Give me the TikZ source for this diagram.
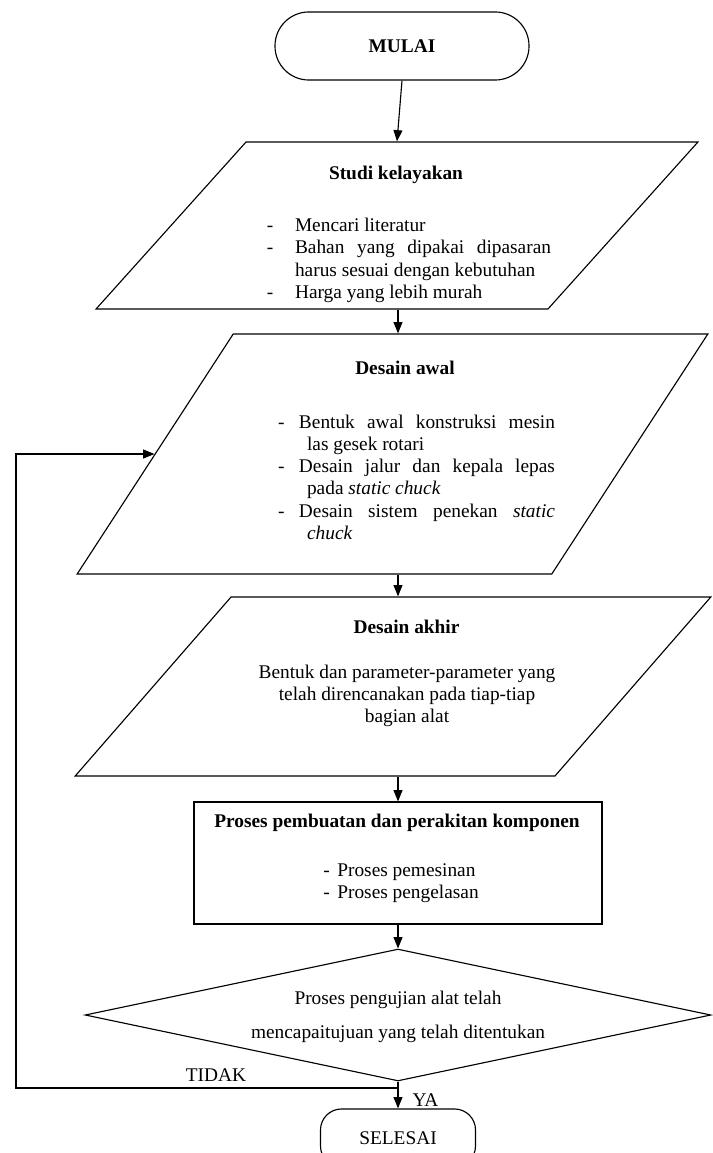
\documentclass[tikz,border=0pt,12pt]{standalone}
\usepackage{fontspec}
\setmainfont{Liberation Serif}
\usetikzlibrary{shapes.geometric,arrows.meta,positioning}
\tolerance=10000 \hbadness=10000
\newcommand{\butir}[3]{\par\noindent\hangindent=#2\hangafter=1\makebox[#1][l]{-}#3\par}

\tikzset{
  flow/.style={draw, line width=0.7pt, inner sep=0pt},
  terminal/.style={flow, rounded corners=#1},
  io/.style 2 args={draw, line width=0.7pt, inner sep=2pt, trapezium, trapezium stretches=true, trapezium left angle=#1, trapezium right angle=#2},
  txt/.style={inner sep=0pt, font=\fontsize{12}{13.8}\selectfont},
  arr/.style={line width=0.7pt, -{Triangle[length=7pt,width=5.5pt]}}
}

\begin{document}
\begin{tikzpicture}[x=0.62pt, y=-0.62pt]
\useasboundingbox (0,0) rectangle (712,1153);

\node[terminal=21pt, minimum width=157.5pt, minimum height=42.2pt, font=\bfseries] (mulai) at (402,46) {MULAI};

\node[io={63.6}{116.4}, minimum width=373.2pt, minimum height=103.5pt] (studi) at (397,225.5) {};
\node[font=\bfseries] (studititle) at (396,175) {Studi kelayakan};
\node[txt, text width=176.1pt, align=justify] (studilist) at (409,256) {\butir{17.4pt}{17.4pt}{Mencari literatur}\butir{17.4pt}{17.4pt}{Bahan yang dipakai dipasaran harus sesuai dengan kebutuhan}\butir{17.4pt}{17.4pt}{Harga yang lebih murah}};

\node[io={63.9}{116.1}, minimum width=391.2pt, minimum height=148.8pt] (awal) at (392.5,454) {};
\node[font=\bfseries] (awaltitle) at (405,368) {Desain awal};
\node[txt, text width=171.7pt, align=justify] (awallist) at (416.5,472.7) {\butir{13pt}{18pt}{Bentuk awal konstruksi mesin\linebreak las gesek rotari}\butir{13pt}{18pt}{Desain jalur dan kepala lepas pada \textit{static chuck}}\butir{13pt}{18pt}{Desain sistem penekan \textit{static chuck}}};

\node[io={64.3}{115.7}, minimum width=394.3pt, minimum height=111pt] (akhir) at (393,686.5) {};
\node[font=\bfseries] (akhirtitle) at (406.5,627) {Desain akhir};
\node[txt, align=center] (akhirtext) at (407,696) {Bentuk dan parameter-parameter yang\\telah direncanakan pada tiap-tiap\\bagian alat};

\node[flow, minimum width=253pt, minimum height=75.6pt] (buat) at (398,863) {};
\node[font=\bfseries] (buattitle) at (397,823) {Proses pembuatan dan perakitan komponen};
\node[txt, align=left, anchor=west] (buatlist) at (323,883.5) {\makebox[8.7pt][l]{-}Proses pemesinan\\\makebox[8.7pt][l]{-}Proses pengelasan};

\node[flow, diamond, minimum width=388pt, minimum height=81.8pt] (uji) at (398,1015) {};
\node[txt, align=center, font=\fontsize{12}{21}\selectfont] (ujitext) at (398,1017) {Proses pengujian alat telah\\mencapaitujuan yang telah ditentukan};

\node[terminal=13pt, minimum width=96.1pt, minimum height=36pt] (selesai) at (398,1138) {SELESAI};
\node (tidak) at (216,1075) {TIDAK}; \node (ya) at (425.5,1100) {YA};

\draw[arr] (mulai.south) -- (studi.north);
\draw[arr] (studi.south -| buat.north) -- (awal.north -| buat.north);
\draw[arr] (awal.south -| buat.north) -- (akhir.north -| buat.north);
\draw[arr] (akhir.south -| buat.north) -- (buat.north);
\draw[arr] (buat.south) -- (uji.north);
\draw[arr] (uji.south) -- (selesai.north);
\coordinate (cabang) at (398,1088); \coordinate (balik) at (16,1088);
\draw[arr] (cabang) -- (balik) |- (awal.left side);
\end{tikzpicture}
\end{document}
